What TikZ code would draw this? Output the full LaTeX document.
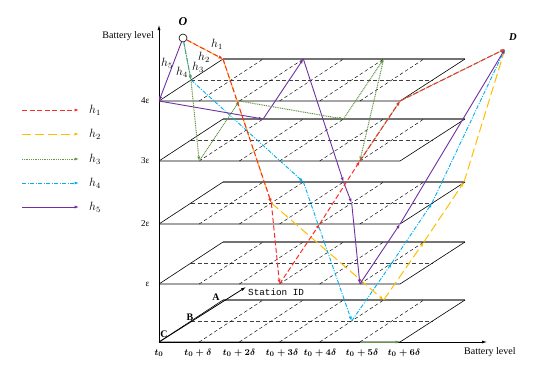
\documentclass[tikz,border=0pt]{standalone}
\usepackage{fontspec}
\setmainfont{Liberation Serif}
\newfontfamily\stfont{Liberation Mono}
\usetikzlibrary{arrows.meta}
\definecolor{cRed}{RGB}{250,45,45}
\definecolor{cYel}{RGB}{255,190,0}
\definecolor{cGrn}{RGB}{100,150,70}
\definecolor{cCya}{RGB}{0,176,240}
\definecolor{cPur}{RGB}{112,48,160}
\begin{document}
\begin{tikzpicture}[x=1pt,y=-1pt,
  tip/.style={-{Latex[length=4.5pt,width=3.2pt]}},
  edgeline/.style={black,line width=0.6pt},
  backline/.style={black!55,line width=1.1pt},
  midline/.style={black!75,line width=0.8pt,dash pattern=on 4pt off 2.5pt},
  slantline/.style={black,line width=0.45pt,dash pattern=on 3.5pt off 2.5pt},
  axisline/.style={black,line width=0.7pt,-{Latex[length=5pt,width=3pt]}},
  hone/.style={tip,cRed,line width=1pt,dash pattern=on 5pt off 2.5pt},
  htwo/.style={tip,cYel,line width=1pt,dash pattern=on 9pt off 4pt},
  hthree/.style={tip,cGrn,line width=1pt,dash pattern=on 1pt off 0.8pt},
  hfour/.style={tip,cCya,line width=0.9pt,dash pattern=on 4pt off 1.5pt on 1pt off 1.5pt},
  hfive/.style={tip,cPur,line width=0.9pt},
  lvl/.style={font=\fontsize{9}{10}\selectfont,anchor=east},
  tlab/.style={font=\fontsize{9.5}{11}\selectfont\boldmath},
  stl/.style={font=\fontsize{10}{11}\selectfont\bfseries},
  hl/.style={font=\fontsize{11.5}{13}\selectfont,inner sep=0pt}
]
\useasboundingbox (0,0) rectangle (559,367);
% layers
\foreach \yL in {342,284,224,161,101}{
  \draw[backline] (223,\yL-42) -- (465,\yL-42);
  \draw[midline] (191,\yL-21) -- (432,\yL-21);
  \foreach \k in {1,...,5}
    \draw[slantline] ({159+40.17*\k},\yL) -- ({223+40.17*\k},\yL-42);
  \draw[edgeline] (159,\yL) -- (400,\yL) -- (465,\yL-42);
  \draw[edgeline] (159,\yL) -- (223,\yL-42);
}
% grid coordinates
\foreach \L/\yL in {0/342,1/284,2/224,3/161,4/101}{
  \foreach \k in {0,...,6}{
    \foreach \s/\S in {0/C,1/B,2/A}{
      \coordinate (n\L k\k\S) at ({159+40.17*\k+32*\s},{\yL-21*\s});
    }
  }
}
% axes
\coordinate (orig) at (159,342);
\coordinate (ytop) at (159,25);
\coordinate (xend) at (487,342);
\coordinate (sid) at (246,287);
\draw[axisline] (orig) -- (ytop);
\draw[axisline] (orig) -- (xend);
\draw[black,line width=0.8pt,-{Latex[length=5pt,width=3pt]}] (orig) -- (sid);
\node[anchor=east,font=\fontsize{10}{12}\selectfont,inner sep=0pt] (ylab) at (154,36) {Battery level};
\node[anchor=west,font=\fontsize{10}{12}\selectfont,inner sep=0pt] (xlab) at (464,352) {Battery level};
\node[anchor=west,font=\stfont\fontsize{9.3}{10}\selectfont,inner sep=0pt] (sidl) at (248,292) {Station ID};
% level labels
\node[lvl] (l4) at (153,101) {4ε};
\node[lvl] (l3) at (153,161) {3ε};
\node[lvl] (l2) at (153,224) {2ε};
\node[lvl] (l1) at (153,284) {ε};
% time labels
\node[tlab] (t0) at (159,353) {$t_0$};
\node[tlab] (t1) at (198,353) {$t_0+\delta$};
\node[tlab] (t2) at (239,353) {$t_0+2\delta$};
\node[tlab] (t3) at (282,353) {$t_0+3\delta$};
\node[tlab] (t4) at (320,353) {$t_0+4\delta$};
\node[tlab] (t5) at (362,353) {$t_0+5\delta$};
\node[tlab] (t6) at (404,353) {$t_0+6\delta$};
% station labels
\node[stl] (stA) at (216,297) {A};
\node[stl] (stB) at (190,317) {B};
\node[stl] (stC) at (164,334) {C};
% O and D
\node[circle,draw=black,fill=white,line width=0.6pt,minimum size=8pt,inner sep=0pt] (O) at (183,38) {};
\node[font=\fontsize{12}{13}\selectfont\bfseries\itshape] (Olab) at (183,22) {O};
\coordinate (D) at (505,49);
\node[font=\fontsize{10.5}{12}\selectfont\bfseries\itshape] (Dlab) at (513,37) {D};
% h2
\foreach \a/\b in {O/n4k0A,n4k0A/n2k2B,n2k2B/n0k4A,n0k4A/n1k5A,n1k5A/n2k6A,n2k6A/D}
  \draw[htwo] (\a) -- (\b);
% h4
\foreach \a/\b in {O/n4k0B,n4k0B/n2k2A,n2k2A/n0k4B,n0k4B/n1k5B,n1k5B/n2k6B,n2k6B/D}
  \draw[hfour] (\a) -- (\b);
% h5
\foreach \a/\b in {O/n4k0C,n4k0C/n3k1A,n3k1A/n4k2A,n4k2A/n2k3A,n2k3A/n2k4B,n2k4B/n1k5C,n1k5C/n2k6C,n2k6C/D}
  \draw[hfive] (\a) -- (\b);
% h3
\foreach \a/\b in {O/n4k0B,n4k0B/n3k1C,n3k1C/n4k2C,n4k2C/n3k3A,n3k3A/n4k4A,n4k4A/n3k5C,n3k5C/n4k6C,n4k6C/D}
  \draw[hthree] (\a) -- (\b);
\draw[tip,cGrn,line width=0.8pt] (n0k5C) -- (n0k6C);
% h1
\foreach \a/\b in {O/n4k0A,n4k0A/n2k2B,n2k2B/n1k3C,n1k3C/n2k4C,n2k4C/n3k5C,n3k5C/n4k6C,n4k6C/D}
  \draw[hone] (\a) -- (\b);
% labels near O
\node[hl] (lh1) at (217,44) {$h_1$};
\node[hl] (lh2) at (204,57) {$h_2$};
\node[hl] (lh3) at (198,67) {$h_3$};
\node[hl] (lh4) at (182,72) {$h_4$};
\node[hl] (lh5) at (167,63) {$h_5$};
% legend
\foreach \i/\st/\yy in {1/hone/110,2/htwo/134,3/hthree/159,4/hfour/183,5/hfive/207}{
  \coordinate (ga\i) at (22,\yy);
  \coordinate (gb\i) at (79,\yy);
  \draw[\st] (ga\i) -- (gb\i);
  \node[hl] (gl\i) at (95,\yy) {$h_{\i}$};
}
\end{tikzpicture}
\end{document}
